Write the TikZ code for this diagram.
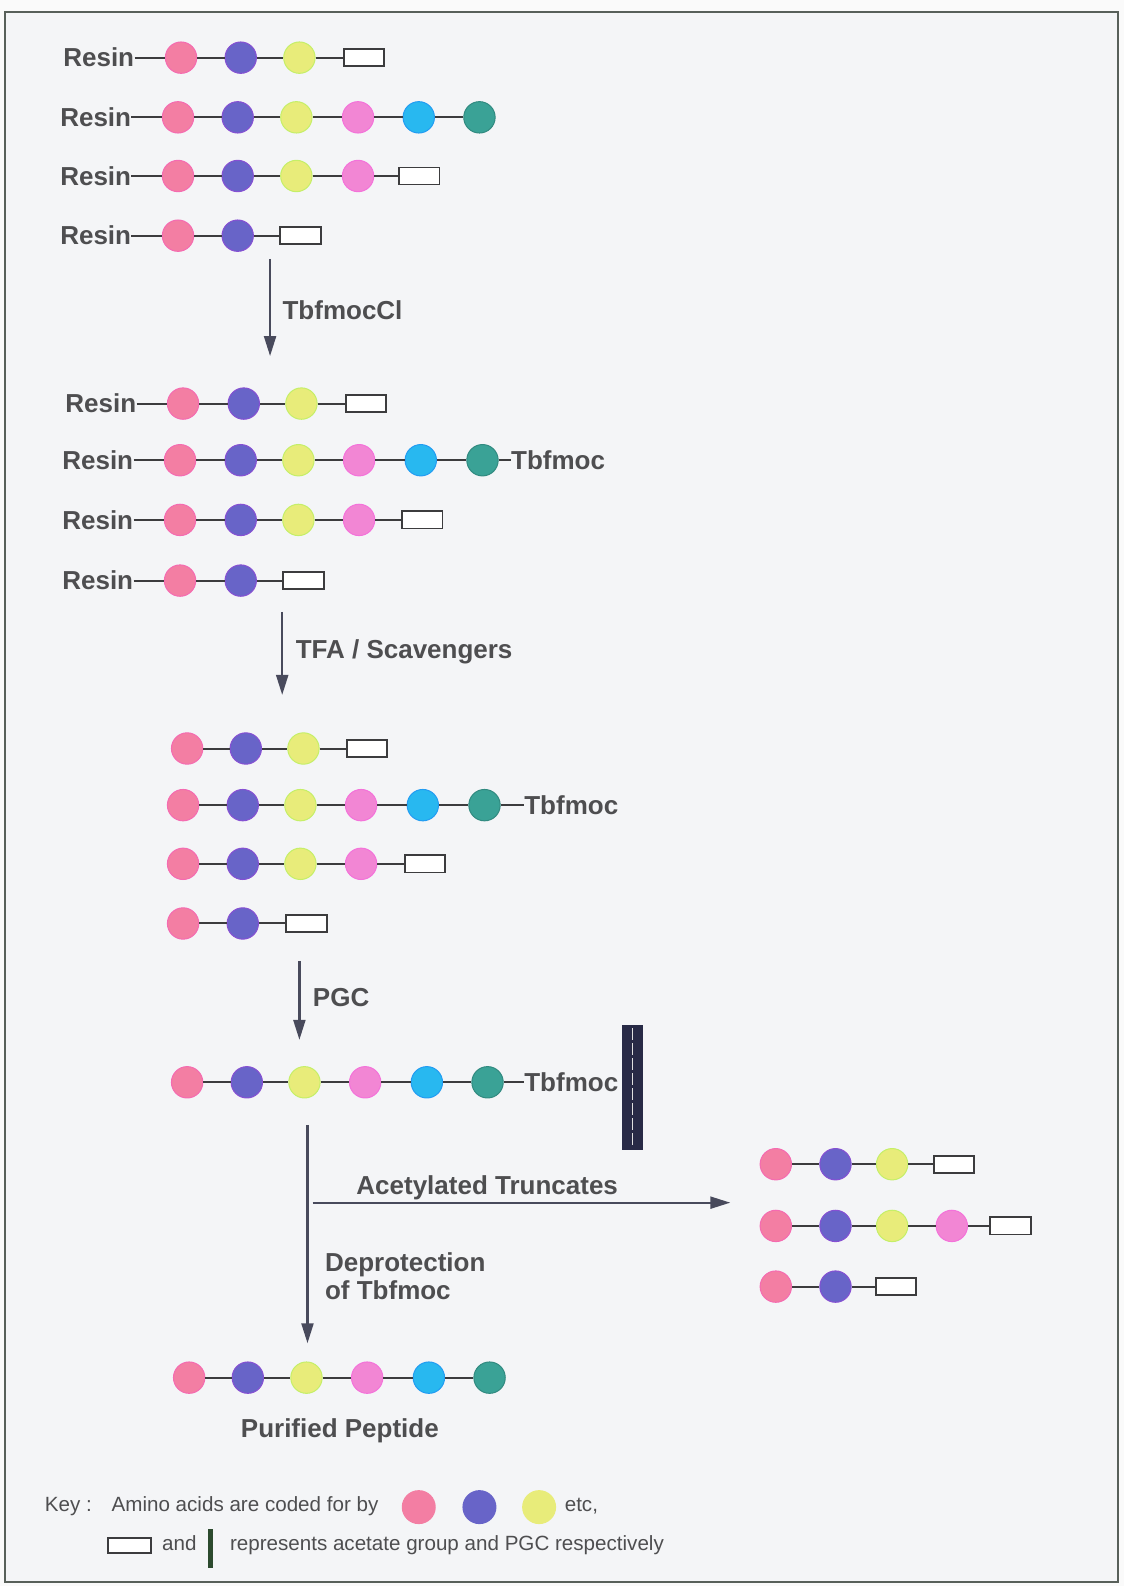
\documentclass[tikz,border=0pt]{standalone}
\usepackage{fontspec}
\setmainfont{Liberation Sans}
\usetikzlibrary{arrows.meta}

% residue colours
\definecolor{resPink}{RGB}{243,126,163}
\definecolor{resViolet}{RGB}{104,100,200}
\definecolor{resYellow}{RGB}{232,236,122}
\definecolor{resMagenta}{RGB}{242,134,212}
\definecolor{resCyan}{RGB}{40,184,240}
\definecolor{resTeal}{RGB}{58,162,150}
% inks
\definecolor{inkDark}{RGB}{60,60,62}
\definecolor{txtGray}{RGB}{78,78,80}
\definecolor{arrowInk}{RGB}{72,74,92}
\definecolor{pgcNavy}{RGB}{40,42,70}
\definecolor{keyGreen}{RGB}{44,74,46}
\definecolor{pageIn}{RGB}{244,245,247}
\definecolor{pageOut}{RGB}{250,250,250}
\definecolor{frameInk}{RGB}{88,96,90}

% one peptide chain: #1 name prefix, #2 y, #3 list of x/style
\newcommand\pepchain[3]{%
  \foreach \cx/\cs [count=\ci, remember=\ci as \cj (initially 0)] in {#3} {%
    \node[\cs] (#1-\ci) at (\cx,#2) {};
    \ifnum\ci>1 \draw[bond] (#1-\cj) -- (#1-\ci);\fi
  }%
}

\begin{document}
\begin{tikzpicture}[x=0.50585pt,y=-0.50585pt,
  aa/.style={circle,minimum size=15.7pt,inner sep=0pt,line width=0.5pt},
  pA/.style={aa,fill=resPink,draw=resPink!85!magenta},
  vA/.style={aa,fill=resViolet,draw=resViolet!80!magenta},
  yA/.style={aa,fill=resYellow,draw=resYellow!85!green},
  mA/.style={aa,fill=resMagenta,draw=resMagenta!85!magenta},
  cA/.style={aa,fill=resCyan,draw=resCyan!85!blue},
  tA/.style={aa,fill=resTeal,draw=resTeal!85!black},
  ac/.style={rectangle,draw=inkDark,fill=white,line width=0.9pt,
    minimum width=20.2pt,minimum height=8.6pt,inner sep=0pt},
  bond/.style={draw=inkDark,line width=1pt},
  lbl/.style={font=\fontsize{13}{15}\selectfont\bfseries,text=txtGray,inner sep=0pt},
  keytxt/.style={font=\fontsize{10.3}{12}\selectfont,text=txtGray,inner sep=0pt,anchor=base west},
  flow/.style={draw=arrowInk,line width=1.1pt,-{Triangle[length=10pt,width=6pt]}},
  keyaa/.style={circle,minimum size=17pt,inner sep=0pt}
]
\useasboundingbox (0,0) rectangle (1111,1568);
\fill[pageOut] (0,0) rectangle (1111,1568);
\fill[pageIn] (5,12) rectangle (1105,1564);
\draw[frameInk,line width=1pt] (5,12) rectangle (1105,1564);

% ---------- resin-bound chains ----------
\node[lbl,anchor=east] (r11) at (133,57) {Resin};
\pepchain{a1}{57}{179/pA,238/vA,296/yA,360/ac}
\draw[bond] (r11) -- (a1-1);
\node[lbl,anchor=east] (r12) at (130,116) {Resin};
\pepchain{a2}{116}{176/pA,235/vA,293/yA,354/mA,414/cA,474/tA}
\draw[bond] (r12) -- (a2-1);
\node[lbl,anchor=east] (r13) at (130,174) {Resin};
\pepchain{a3}{174}{176/pA,235/vA,293/yA,354/mA,414.5/ac}
\draw[bond] (r13) -- (a3-1);
\node[lbl,anchor=east] (r14) at (130,233) {Resin};
\pepchain{a4}{233}{176/pA,235/vA,297/ac}
\draw[bond] (r14) -- (a4-1);

\coordinate (s1a) at (267,256);
\coordinate (s1b) at (267,352);
\draw[flow] (s1a) -- (s1b);
\node[lbl,anchor=base west] (s1l) at (279,316) {TbfmocCl};

% ---------- capped chains ----------
\node[lbl,anchor=east] (r21) at (135,399) {Resin};
\pepchain{b1}{399}{181/pA,241/vA,298/yA,362/ac}
\draw[bond] (r21) -- (b1-1);
\node[lbl,anchor=east] (r22) at (132,455) {Resin};
\pepchain{b2}{455}{178/pA,238/vA,295/yA,355/mA,416/cA,477/tA}
\draw[bond] (r22) -- (b2-1);
\node[lbl,anchor=west] (t22) at (505,455) {Tbfmoc};
\draw[bond] (b2-6) -- (t22);
\node[lbl,anchor=east] (r23) at (132,514) {Resin};
\pepchain{b3}{514}{178/pA,238/vA,295/yA,355/mA,417.5/ac}
\draw[bond] (r23) -- (b3-1);
\node[lbl,anchor=east] (r24) at (132,574) {Resin};
\pepchain{b4}{574}{178/pA,238/vA,300/ac}
\draw[bond] (r24) -- (b4-1);

\coordinate (s2a) at (279,605);
\coordinate (s2b) at (279,687);
\draw[flow] (s2a) -- (s2b);
\node[lbl,anchor=base west] (s2l) at (292,651) {TFA / Scavengers};

% ---------- cleaved chains ----------
\pepchain{c1}{740}{185/pA,243/vA,300/yA,363/ac}
\pepchain{c2}{796}{181/pA,240/vA,297/yA,357/mA,418/cA,479/tA}
\node[lbl,anchor=west] (t32) at (518,796) {Tbfmoc};
\draw[bond] (c2-6) -- (t32);
\pepchain{c3}{854}{181/pA,240/vA,297/yA,357/mA,420/ac}
\pepchain{c4}{913}{181/pA,240/vA,303/ac}

\coordinate (s3a) at (296,950);
\coordinate (s3b) at (296,1028);
\draw[flow] (s3a) -- (s3b);
\node[lbl,anchor=base west] (s3l) at (309,995) {PGC};

% ---------- PGC-bound peptide ----------
\pepchain{d1}{1070}{185/pA,244/vA,301/yA,361/mA,422/cA,482/tA}
\node[lbl,anchor=west] (t41) at (518,1070) {Tbfmoc};
\draw[bond] (d1-6) -- (t41);
\node[rectangle,fill=pgcNavy,minimum width=10.6pt,minimum height=62.7pt,inner sep=0pt]
  (pgc) at (625.5,1075) {};
\draw[white!75!gray,line width=0.5pt,dash pattern=on 6pt off 1.5pt]
  ([yshift=-2pt]pgc.north) -- ([yshift=2pt]pgc.south);

% ---------- separation ----------
\coordinate (s4a) at (304,1112);
\coordinate (s4b) at (304,1328);
\draw[flow] (s4a) -- (s4b);
\coordinate (s5a) at (309,1189);
\coordinate (s5b) at (722,1189);
\draw[flow] (s5a) -- (s5b);
\node[lbl,anchor=base west] (s5l) at (352,1181) {Acetylated Truncates};
\node[lbl,anchor=base west] (s4l) at (321,1257) {Deprotection};
\node[lbl,anchor=base west] (s4m) at (321,1285) {of Tbfmoc};

\pepchain{e1}{1151}{767/pA,826/vA,882/yA,943/ac}
\pepchain{e2}{1212}{767/pA,826/vA,882/yA,941/mA,999/ac}
\pepchain{e3}{1272}{767/pA,826/vA,886/ac}

% ---------- purified product ----------
\pepchain{f1}{1362}{187/pA,245/vA,303/yA,363/mA,424/cA,484/tA}
\node[lbl,anchor=base] (pp) at (336,1421) {Purified Peptide};

% ---------- key ----------
\node[keytxt] (k1) at (44,1494) {Key :};
\node[keytxt] (k2) at (110,1494) {Amino acids are coded for by};
\node[keyaa,fill=resPink] (kp) at (414,1490) {};
\node[keyaa,fill=resViolet] (kv) at (474,1490) {};
\node[keyaa,fill=resYellow] (ky) at (533,1490) {};
\node[keytxt] (k3) at (558,1494) {etc,};
\node[ac,minimum width=21.2pt,minimum height=7.6pt] (kac) at (128,1528) {};
\node[keytxt] (k4) at (160,1533) {and};
\node[rectangle,fill=keyGreen,minimum width=2.6pt,minimum height=19.2pt,inner sep=0pt]
  (kbar) at (208,1531) {};
\node[keytxt] (k5) at (227,1533) {represents acetate group and PGC respectively};
\end{tikzpicture}
\end{document}
